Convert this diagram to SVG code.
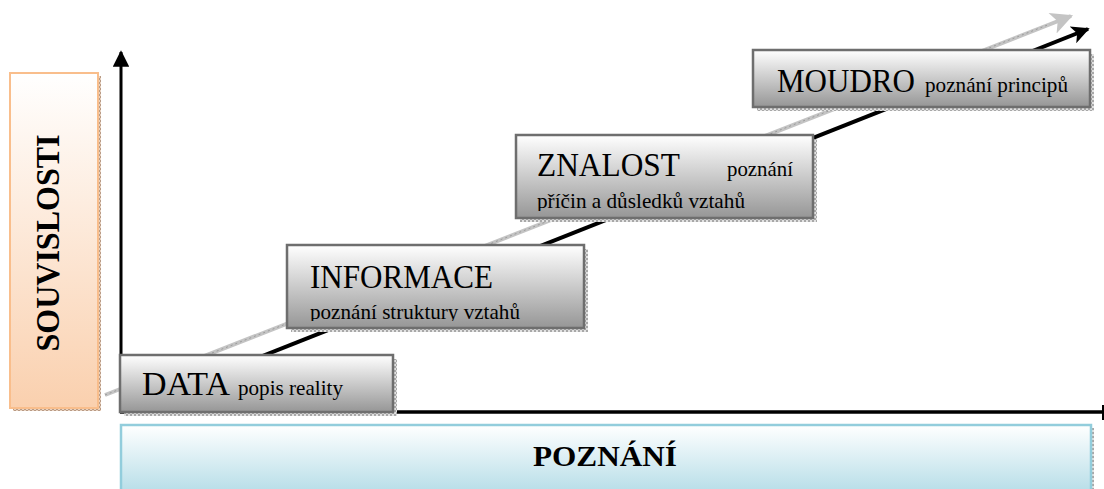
<svg xmlns="http://www.w3.org/2000/svg" width="1104" height="489" viewBox="0 0 1104 489">
  <defs>
    <linearGradient id="gGray" x1="0" y1="0" x2="0" y2="1">
      <stop offset="0" stop-color="#FFFFFF"/>
      <stop offset="1" stop-color="#969696"/>
    </linearGradient>
    <linearGradient id="gPeach" x1="0" y1="0" x2="0" y2="1">
      <stop offset="0" stop-color="#FFFFFF"/>
      <stop offset="1" stop-color="#FAD0AE"/>
    </linearGradient>
    <linearGradient id="gBlue" x1="0" y1="0" x2="0" y2="1">
      <stop offset="0" stop-color="#FFFFFF"/>
      <stop offset="1" stop-color="#B4DCE7"/>
    </linearGradient>
    <pattern id="pShadow" width="4" height="4" patternUnits="userSpaceOnUse">
      <rect width="4" height="4" fill="#E2E2E2"/>
      <rect width="2" height="2" fill="#A8A8A8"/>
      <rect x="2" y="2" width="2" height="2" fill="#A8A8A8"/>
    </pattern>
    <pattern id="pShadowP" width="4" height="4" patternUnits="userSpaceOnUse">
      <rect width="4" height="4" fill="#E8D2C0"/>
      <rect width="2" height="2" fill="#B89A84"/>
      <rect x="2" y="2" width="2" height="2" fill="#B89A84"/>
    </pattern>
    <marker id="mBlack" viewBox="0 0 10 10" refX="9" refY="5" markerWidth="5.5" markerHeight="4.5" orient="auto" markerUnits="strokeWidth">
      <path d="M0,0 L10,5 L0,10 L2.5,5 Z" fill="#000"/>
    </marker>
    <marker id="mGray" viewBox="0 0 10 10" refX="9" refY="5" markerWidth="6.5" markerHeight="5.5" orient="auto" markerUnits="strokeWidth">
      <path d="M0,0 L10,5 L0,10 L2.5,5 Z" fill="#C4C4C4"/>
    </marker>
    <marker id="mAxis" viewBox="0 0 10 10" refX="9" refY="5" markerWidth="5.5" markerHeight="5.5" orient="auto" markerUnits="strokeWidth">
      <path d="M0,0 L10,5 L0,10 Z" fill="#000"/>
    </marker>
    <clipPath id="clipInfo"><rect x="288" y="245" width="297" height="76"/></clipPath>
    <clipPath id="clipZnal"><rect x="517" y="135" width="297" height="76"/></clipPath>
    <style>
      .box { fill: url(#gGray); stroke: #6E6E6E; stroke-width: 2.5; }
      .shadow { fill: url(#pShadow); }
      .big { font-family: "Liberation Serif", "Times New Roman", serif; font-size: 34px; fill: #000; }
      .small { font-family: "Liberation Serif", "Times New Roman", serif; font-size: 22px; fill: #000; }
      .head { font-family: "Liberation Serif", "Times New Roman", serif; font-weight: bold; fill: #000; }
    </style>
  </defs>

  <!-- axis label boxes -->
  <g id="souvislosti">
    <rect x="13" y="76" width="88" height="335" fill="url(#pShadowP)"/>
    <rect x="10" y="73" width="88" height="335" fill="url(#gPeach)" stroke="#F9BE8C" stroke-width="2"/>
    <text class="head" font-size="34" x="48" y="243" text-anchor="middle" textLength="217" lengthAdjust="spacingAndGlyphs" transform="rotate(-90 48 243) translate(0 11)">SOUVISLOSTI</text>
  </g>
  <g id="poznani">
    <rect x="124" y="428" width="970" height="70" fill="url(#pShadow)"/>
    <rect x="121" y="425" width="970" height="70" fill="url(#gBlue)" stroke="#92CDDC" stroke-width="2.5"/>
    <text class="head" font-size="29" x="605" y="466" text-anchor="middle" textLength="144" lengthAdjust="spacingAndGlyphs">POZNÁNÍ</text>
  </g>

  <!-- connectors -->
  <g id="connectors">
    <line x1="121" y1="413" x2="121" y2="52" stroke="#000" stroke-width="3" marker-end="url(#mAxis)"/>
    <line x1="120" y1="412" x2="1103" y2="412" stroke="#000" stroke-width="3.5"/>
    <line x1="1103" y1="405" x2="1103" y2="420" stroke="#000" stroke-width="2"/>
    <line x1="105" y1="395" x2="1071" y2="16" stroke="#C4C4C4" stroke-width="4" marker-end="url(#mGray)"/>
    <line x1="105" y1="395" x2="1050" y2="24" stroke="#9A9A9A" stroke-width="1" stroke-dasharray="2 3"/>
    <line x1="240" y1="365" x2="1088" y2="29" stroke="#000" stroke-width="4" marker-end="url(#mBlack)"/>
  </g>

  <!-- nodes -->
  <g id="data">
    <rect x="124" y="359" width="273" height="57" class="shadow"/>
    <rect x="120" y="355" width="273" height="57" class="box"/>
    <text class="big" x="142" y="395" textLength="88" lengthAdjust="spacingAndGlyphs">DATA</text>
    <text class="small" x="238" y="395" textLength="105" lengthAdjust="spacingAndGlyphs">popis reality</text>
  </g>
  <g id="informace">
    <rect x="291" y="249" width="297" height="83" class="shadow"/>
    <rect x="287" y="245" width="297" height="83" class="box"/>
    <text class="big" x="310" y="288" textLength="183" lengthAdjust="spacingAndGlyphs">INFORMACE</text>
    <text class="small" x="310" y="319" textLength="210" lengthAdjust="spacingAndGlyphs" clip-path="url(#clipInfo)">poznání struktury vztahů</text>
  </g>
  <g id="znalost">
    <rect x="520" y="139" width="297" height="83" class="shadow"/>
    <rect x="516" y="135" width="297" height="83" class="box"/>
    <text class="big" x="537" y="176" textLength="143" lengthAdjust="spacingAndGlyphs">ZNALOST</text>
    <text class="small" x="727" y="176" textLength="66" lengthAdjust="spacingAndGlyphs">poznání</text>
    <text class="small" x="537" y="208" textLength="208" lengthAdjust="spacingAndGlyphs" clip-path="url(#clipZnal)">příčin a důsledků vztahů</text>
  </g>
  <g id="moudro">
    <rect x="757" y="54" width="337" height="57" class="shadow"/>
    <rect x="753" y="50" width="337" height="57" class="box"/>
    <text class="big" x="777" y="92" textLength="138" lengthAdjust="spacingAndGlyphs">MOUDRO</text>
    <text class="small" x="925" y="92" textLength="143" lengthAdjust="spacingAndGlyphs">poznání principů</text>
  </g>
</svg>
